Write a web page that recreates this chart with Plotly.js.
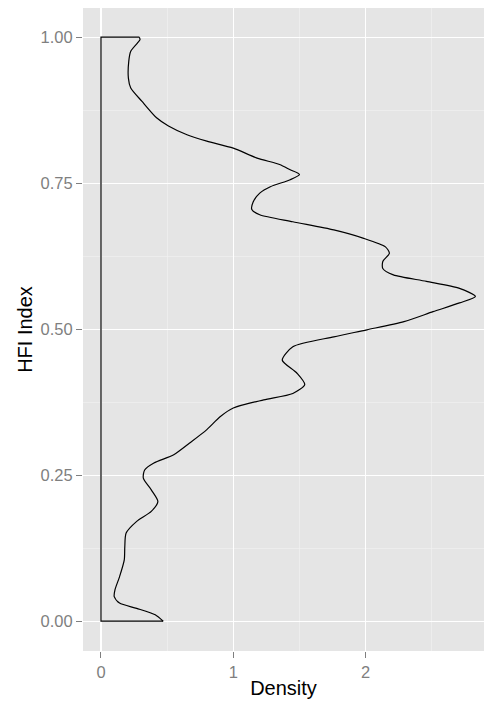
<!DOCTYPE html>
<html>
<head>
<meta charset="utf-8">
<script src="https://cdn.plot.ly/plotly-3.0.1.min.js"></script>
<style>html,body{margin:0;padding:0;background:#fff;overflow:hidden}</style>
</head>
<body>
<div id="chart" style="width:484px;height:704px"></div>
<script>
// HFI index values (y) and kernel density (x)
var hfi = [0, 0.011, 0.022, 0.031, 0.042, 0.054, 0.076, 0.105, 0.128, 0.151,
  0.171, 0.188, 0.205, 0.225, 0.245, 0.259, 0.271, 0.285, 0.305, 0.328,
  0.350, 0.365, 0.379, 0.390, 0.405, 0.425, 0.447, 0.470, 0.487, 0.499,
  0.513, 0.530, 0.545, 0.556, 0.570, 0.582, 0.593, 0.604, 0.616, 0.630,
  0.641, 0.656, 0.670, 0.684, 0.696, 0.705, 0.718, 0.733, 0.744, 0.756,
  0.765, 0.773, 0.782, 0.793, 0.810, 0.822, 0.833, 0.848, 0.862, 0.890,
  0.913, 0.930, 0.959, 0.976, 0.990, 0.996, 1.0];
var density = [0.47, 0.41, 0.27, 0.14, 0.10, 0.106, 0.14, 0.176, 0.18, 0.19,
  0.27, 0.38, 0.43, 0.38, 0.32, 0.33, 0.40, 0.55, 0.67, 0.80,
  0.90, 1.0, 1.23, 1.45, 1.54, 1.48, 1.37, 1.45, 1.76, 2.01,
  2.29, 2.51, 2.71, 2.83, 2.71, 2.46, 2.21, 2.13, 2.13, 2.18,
  2.15, 1.98, 1.76, 1.45, 1.20, 1.14, 1.15, 1.20, 1.28, 1.43,
  1.50, 1.43, 1.35, 1.18, 1.0, 0.80, 0.65, 0.51, 0.42, 0.31,
  0.225, 0.207, 0.21, 0.225, 0.275, 0.295, 0.29];
var xTicks = [0, 1, 2];
var xTickLabels = ['0', '1', '2'];
var yTicks = [0, 0.25, 0.5, 0.75, 1];
var yTickLabels = ['0.00', '0.25', '0.50', '0.75', '1.00'];

var n = hfi.length;
var curve = {
  x: density, y: hfi, type: 'scatter', mode: 'lines',
  line: {color: '#000', width: 1.2, shape: 'spline', smoothing: 0.7},
  hoverinfo: 'skip', showlegend: false
};
var baseline = {
  x: [density[n - 1], 0, 0, density[0]],
  y: [hfi[n - 1], hfi[n - 1], hfi[0], hfi[0]],
  type: 'scatter', mode: 'lines',
  line: {color: '#000', width: 1.2},
  hoverinfo: 'skip', showlegend: false
};

var fam = 'Liberation Sans, Arial, Helvetica, sans-serif';
var layout = {
  width: 484, height: 704,
  margin: {l: 83, r: 0, t: 8, b: 53},
  paper_bgcolor: '#ffffff',
  plot_bgcolor: '#e5e5e5',
  font: {family: fam},
  showlegend: false,
  xaxis: {
    range: [-0.136, 2.895],
    tickvals: xTicks, ticktext: xTickLabels,
    ticks: 'outside', ticklen: 6, tickwidth: 1, tickcolor: '#7f7f7f',
    tickfont: {size: 16.5, color: '#7f7f7f', family: fam},
    showgrid: true, gridcolor: '#ffffff', gridwidth: 1.1,
    minor: {dtick: 0.5, tick0: 0.5, showgrid: true, gridcolor: '#f2f2f2', gridwidth: 0.6, ticks: ''},
    zeroline: false, showline: false,
    title: {text: 'Density', font: {size: 20, color: '#000', family: fam}, standoff: 1}
  },
  yaxis: {
    range: [-0.051, 1.050],
    tickvals: yTicks, ticktext: yTickLabels,
    ticks: 'outside', ticklen: 6, tickwidth: 1, tickcolor: '#7f7f7f',
    tickfont: {size: 16.5, color: '#7f7f7f', family: fam},
    showgrid: true, gridcolor: '#ffffff', gridwidth: 1.1,
    minor: {dtick: 0.25, tick0: 0.125, showgrid: true, gridcolor: '#f2f2f2', gridwidth: 0.6, ticks: ''},
    zeroline: false, showline: false,
    title: {text: 'HFI Index', font: {size: 20, color: '#000', family: fam}, standoff: 2}
  }
};

Plotly.newPlot('chart', [baseline, curve], layout, {displayModeBar: false, staticPlot: true});
</script>
</body>
</html>
